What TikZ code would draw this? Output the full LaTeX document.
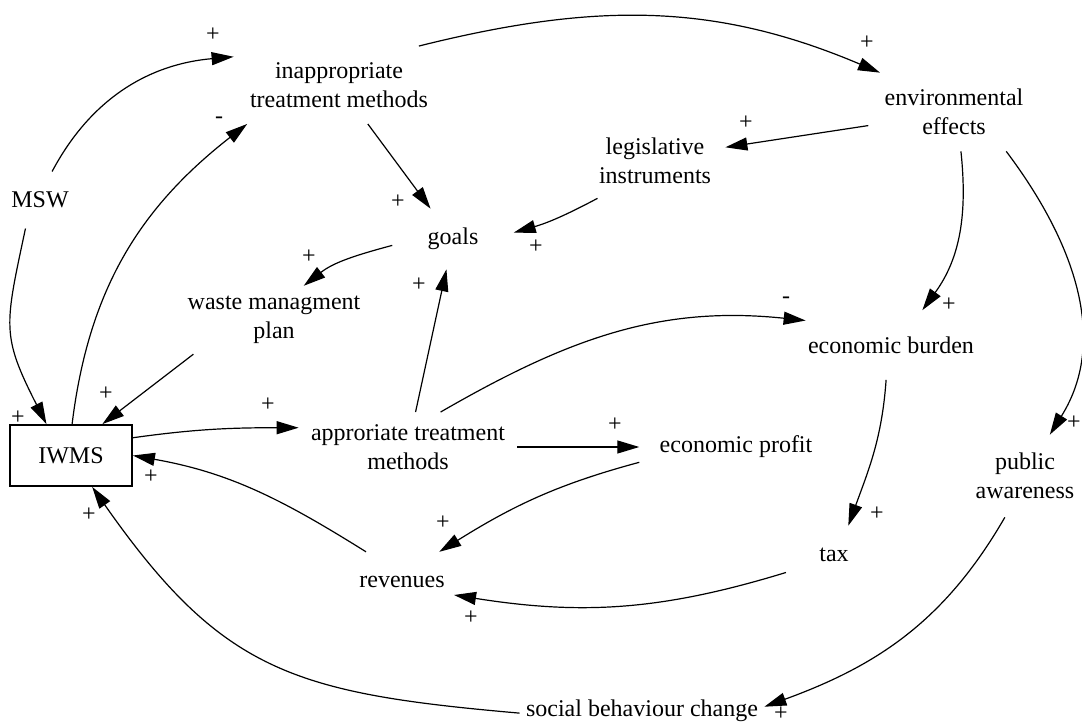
\documentclass[tikz,border=0pt]{standalone}
\usepackage{fontspec}
\setmainfont{Liberation Serif}
\usetikzlibrary{arrows.meta}

\begin{document}
\begin{tikzpicture}[x=0.5pt, y=0.5pt,
  font=\fontsize{12}{14.5}\selectfont,
  var/.style={align=center, inner sep=#1},
  var/.default=5pt,
  link/.style={-{Triangle[length=11pt,width=6.5pt]}, line width=0.6pt},
  sign/.style={inner sep=0pt}]
  \useasboundingbox (0,0) rectangle (1082,724);
  % variables
  \node[var=10pt] (msw) at (40,524) {MSW};
  \node[var=8pt] (inappr) at (339,639) {inappropriate\\treatment methods};
  \node[var=8pt] (env) at (954,612) {environmental\\effects};
  \node[var=7pt] (legis) at (655,563) {legislative\\instruments};
  \node[var, inner xsep=17.5pt, inner ysep=9.5pt] (goals) at (453,485) {goals};
  \node[var=5pt] (plan) at (274,404) {waste managment\\plan};
  \node[draw, line width=0.9pt, minimum width=61pt, minimum height=30.5pt,
    inner sep=0pt] (iwms) at (71,268.5) {IWMS};
  \node[var=6pt] (appr) at (408,277) {approriate treatment\\methods};
  \node[var=10pt] (profit) at (736,277) {economic profit};
  \node[var, inner xsep=1pt, inner ysep=13pt] (burden) at (891,379) {economic burden};
  \node[var=9pt] (aware) at (1025,248) {public\\awareness};
  \node[var, inner xsep=16.5pt, inner ysep=11pt] (tax) at (834,169) {tax};
  \node[var, inner xsep=4.5pt, inner ysep=12pt] (rev) at (402,142) {revenues};
  \node[var, inner xsep=3pt, inner ysep=2pt] (social) at (642,13) {social behaviour change};
  % causal links
  \draw[link] (msw.67) to[out=62,in=185] (inappr.165);
  \draw[link] (iwms.88) to[out=83,in=218] (inappr.203);
  \draw[link] (inappr) -- (goals);
  \draw[link] (inappr.26) to[out=14,in=157] (env.152);
  \draw[link] (env.189) -- (legis.11);
  \draw[link] (legis.213) to[out=208,in=16] (goals.6);
  \draw[link] (goals.186) to[out=195,in=38] (plan.49);
  \draw[link] (plan.203) -- (iwms.45);
  \draw[link] (msw.243) to[out=258,in=117,looseness=1.3] (iwms.128);
  \draw[link] (iwms.16) to[out=8,in=180] (appr.170);
  \draw[link] (appr) -- (goals);
  \draw[link] (appr.47) to[out=30,in=174] (burden.164);
  \draw[link] (appr) -- (profit);
  \draw[link] (profit.189) to[out=195,in=32] (rev.39);
  \draw[link] (rev.140) to[out=148,in=-10] (iwms.east);
  \draw[link] (tax.200) to[out=197,in=-9] (rev.-14);
  \draw[link] (burden.262) to[out=266,in=70] (tax.64);
  \draw[link] (env.-80) to[out=-84,in=54] (burden.48);
  \draw[link] (env.-37) to[out=-53,in=58] (aware.59);
  \draw[link] (aware.244) to[out=240,in=20] (social.2);
  \draw[link] (social.181) to[out=175,in=-55,looseness=1.2] (iwms.-56);
  % polarities
  \foreach \x/\y/\s [count=\i] in {213/689/+, 219/604/-, 398/522/+, 867/681/+,
      746/601/+, 536/477/+, 309/467/+, 106/330/+, 18/306/+, 268/319/+,
      419/439/+, 786/424/-, 615/299/+, 443/201/+, 151/247/+, 471/106/+,
      877/210/+, 949/419/+, 1074/301/+, 781/10/+, 89/209/+}
    \node[sign] (pol\i) at (\x,\y) {\s};
\end{tikzpicture}
\end{document}
